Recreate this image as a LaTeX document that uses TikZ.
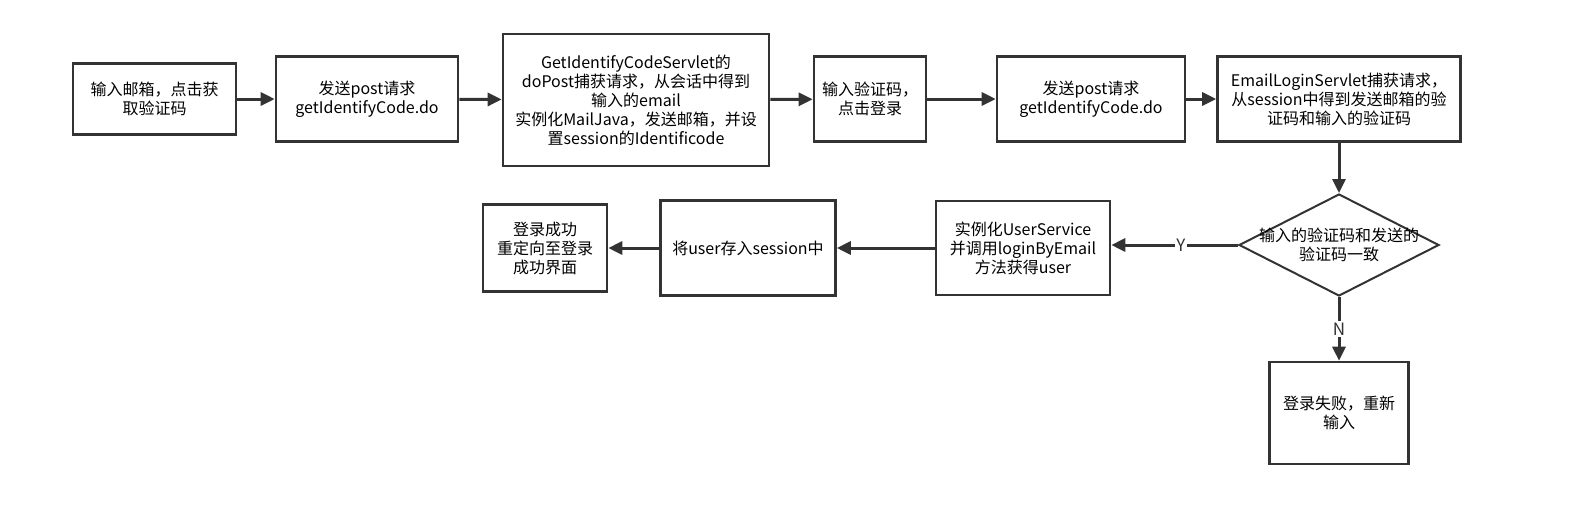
\documentclass[tikz,border=0pt]{standalone}
\usepackage{fontspec}
\setmainfont{Noto Sans CJK SC}
\usetikzlibrary{arrows.meta}
\usetikzlibrary{shapes.geometric}
\definecolor{flowline}{HTML}{333333}
\tikzset{>={Triangle[length=14pt,width=13pt]}}
\tikzset{
  stepbox/.style={draw=flowline, line width=2.6pt, align=center, inner sep=0pt,
    font=\fontsize{16pt}{19pt}\selectfont},
  decision/.style={draw=flowline, line width=2pt, diamond, inner sep=0pt,
    minimum width=200pt, minimum height=102pt},
  flow/.style={->, line width=3pt, flowline},
  branch/.style={fill=white, inner sep=1.5pt, font=\fontsize{17pt}{17pt}\selectfont}
}

\begin{document}
\begin{tikzpicture}[x=1pt, y=-1pt]
            \useasboundingbox (0, 0) rectangle (1570, 520);
            % top row
            \node[stepbox, minimum width=163pt, minimum height=71pt] (mail) at (154.5, 99) {输入邮箱，点击获\\取验证码};
            \node[stepbox, minimum width=182pt, minimum height=85pt] (post) at (367, 99) {发送post请求\\getIdentifyCode.do};
            \node[stepbox, minimum width=266pt, minimum height=132pt] (servlet) at (636, 100) {GetIdentifyCodeServlet的\\doPost捕获请求，从会话中得到\\输入的email\\实例化MailJava，发送邮箱，并设\\置session的Identificode};
            \node[stepbox, minimum width=112pt, minimum height=85pt] (code) at (870, 99) {输入验证码，\\点击登录};
            \node[stepbox, minimum width=188pt, minimum height=85pt] (postlogin) at (1091, 99) {发送post请求\\getIdentifyCode.do};
            \node[stepbox, minimum width=243pt, minimum height=85pt] (login) at (1339, 99) {EmailLoginServlet捕获请求，\\从session中得到发送邮箱的验\\证码和输入的验证码};
            % decision
            \node[decision] (check) at (1339, 245) {};
            \node[align=center, font=\fontsize{16pt}{19pt}\selectfont] at (check) {输入的验证码和发送的\\验证码一致};
            % bottom row
            \node[stepbox, minimum width=174pt, minimum height=94pt] (service) at (1023, 248) {实例化UserService\\并调用loginByEmail\\方法获得user};
            \node[stepbox, minimum width=175pt, minimum height=95pt] (store) at (748, 248) {将user存入session中};
            \node[stepbox, minimum width=124pt, minimum height=87pt] (success) at (545, 248) {登录成功\\重定向至登录\\成功界面};
            \node[stepbox, minimum width=139pt, minimum height=102pt] (fail) at (1339, 413) {登录失败，重新\\输入};
            % connectors
            \draw[flow] (mail) -- (post);
            \draw[flow] (post) -- (servlet);
            \draw[flow] (servlet) -- (code);
            \draw[flow] (code) -- (postlogin);
            \draw[flow] (postlogin) -- (login);
            \draw[flow] (login) -- (check);
            \draw[flow] (check.west) -- (check.west -| service.east) node[branch, pos=0.45] {Y};
            \draw[flow] (check) -- (fail) node[branch, pos=0.5] {N};
            \draw[flow] (service) -- (store);
            \draw[flow] (store) -- (success);
        \end{tikzpicture}
\end{document}
